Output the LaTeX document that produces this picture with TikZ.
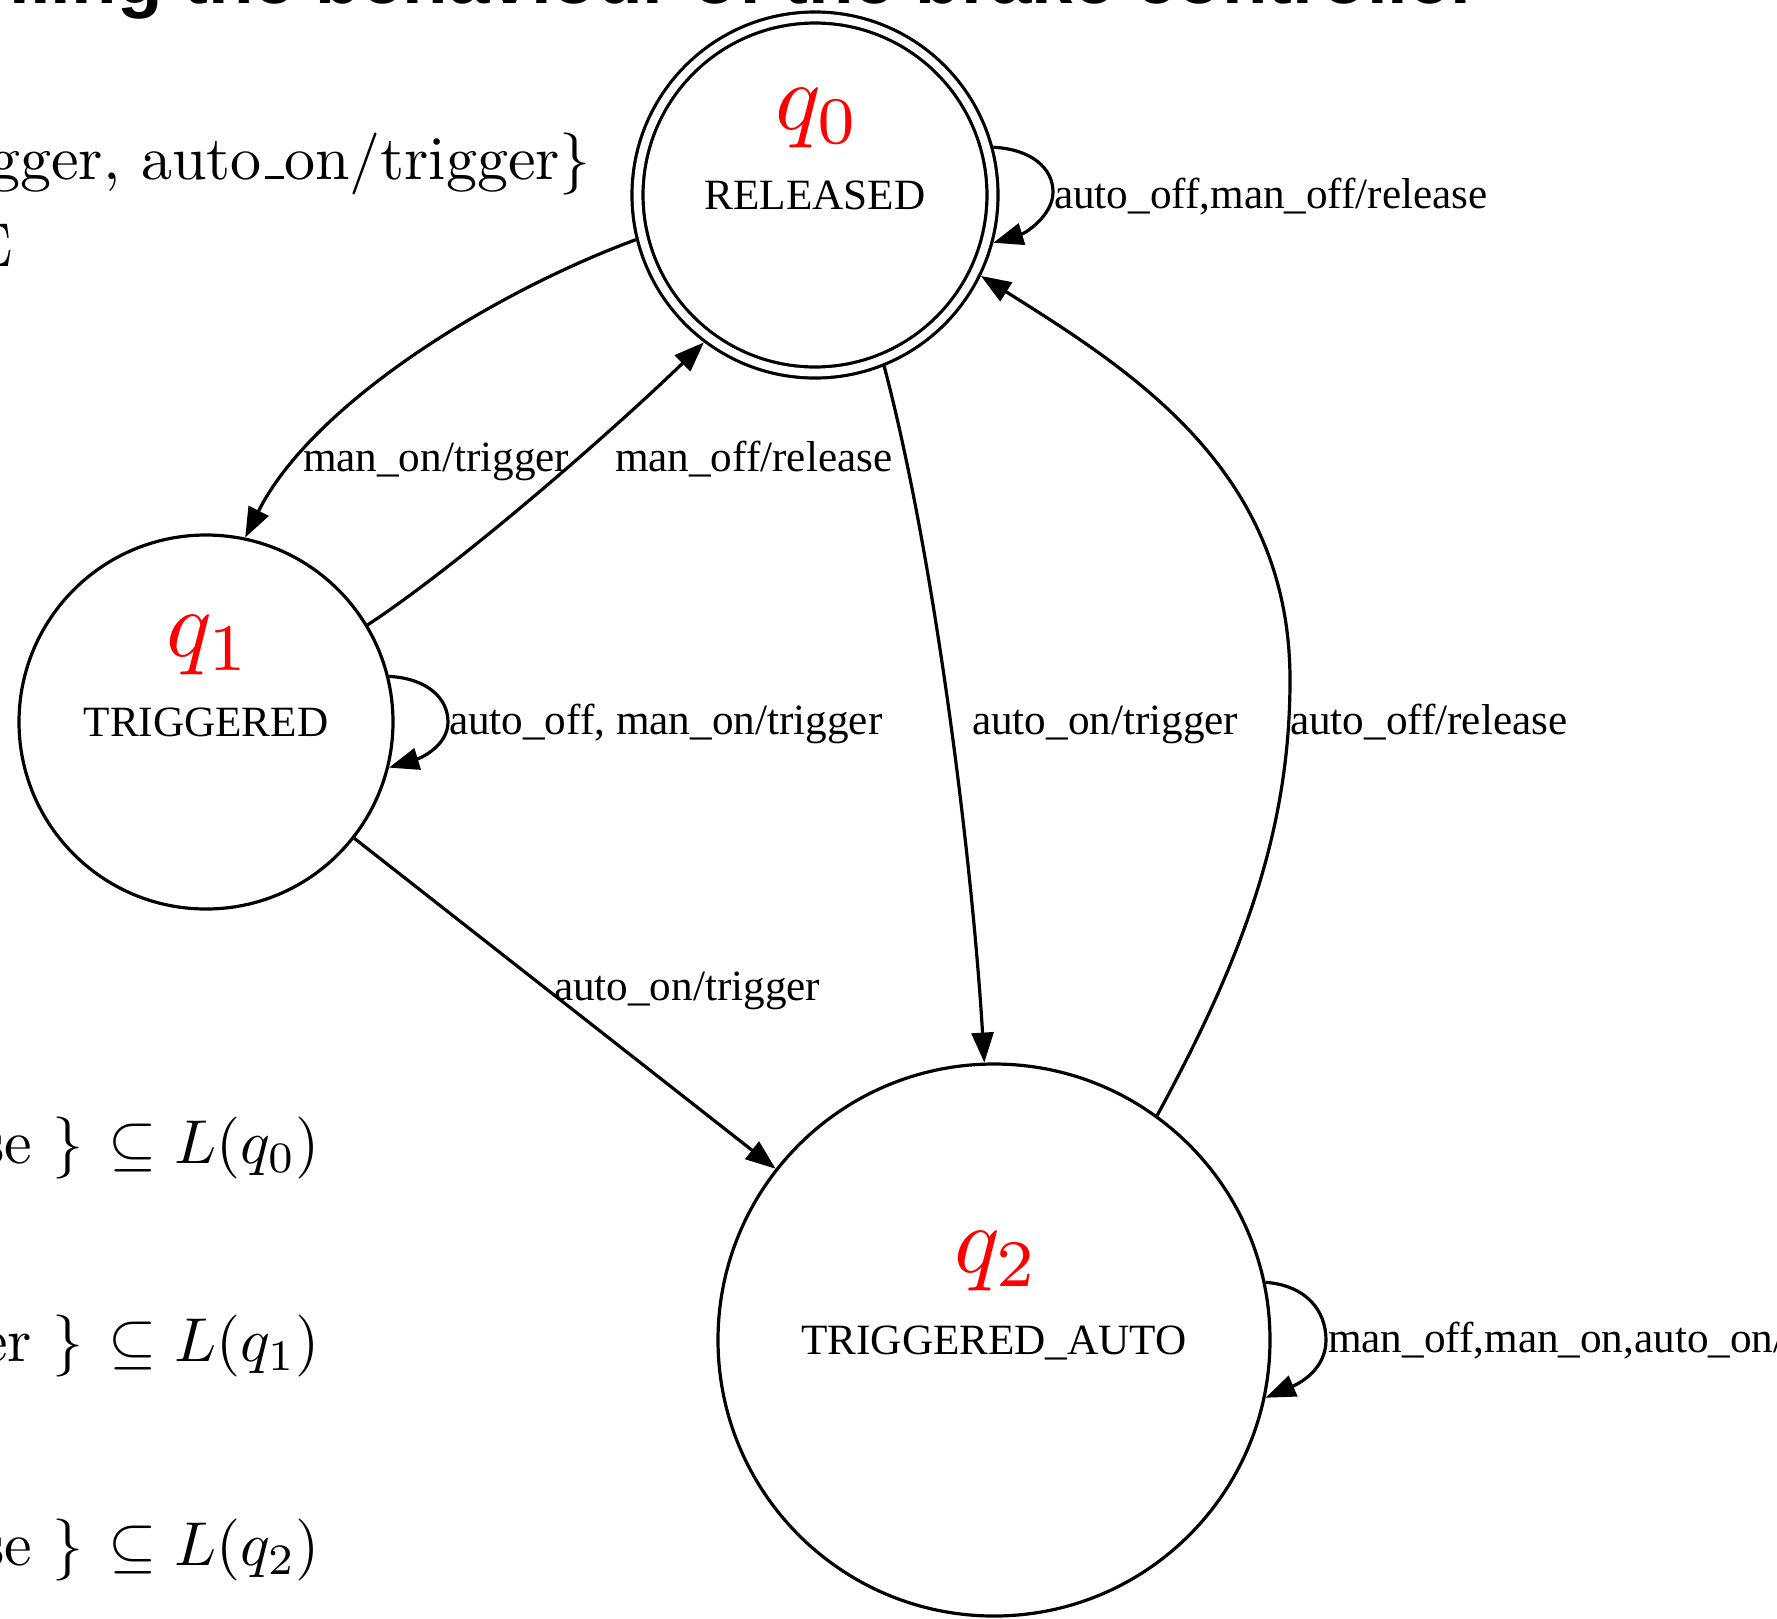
\documentclass[tikz,border=0pt]{standalone}
\usepackage{fontspec}
\newfontfamily\gvserif{Liberation Serif}
\newfontfamily\headsans{Liberation Sans}
\usetikzlibrary{arrows.meta}
% short low rule used as underscore in the slide text
\newcommand\cmus{\leavevmode\kern.06em\vbox{\hrule width.3em height .5pt}}

\begin{document}
\begin{tikzpicture}[x=1pt,y=-1pt,
  every node/.style={inner sep=0pt, outer sep=0pt},
  state/.style={circle, draw, line width=3.2pt, inner sep=0pt, outer sep=1.6pt},
  final/.style={state, double, double distance=7.8pt, outer sep=7.1pt},
  trans/.style={line width=3.2pt, -{Triangle[length=30pt,width=22pt]}},
  edgelbl/.style={font=\gvserif\fontsize{43.2}{50}\selectfont, anchor=base west},
  statelbl/.style={font=\gvserif\fontsize{43.2}{50}\selectfont, anchor=base},
  qlbl/.style={text=red, font=\normalsize, scale=9.5, anchor=base},
  slide/.style={font=\normalsize, scale=6.2, anchor=base east},
]
\useasboundingbox (0,0) rectangle (1777,1618);
\clip (0,0) rectangle (1777,1618);
\fill[white] (0,0) rectangle (1777,1618);

% slide heading and surrounding text
\node[font=\headsans\bfseries\fontsize{74.5}{80}\selectfont, anchor=base east] (ttl) at (1479,3) {lling the behaviour of the brake controller};
\node[slide] (s1) at (591,179) {gger, auto\cmus on/trigger\}};
\node[slide] (s2) at (13,266) {E};
\node[slide] (s3) at (320,1163) {se \}\hspace{0.4em}$\subseteq L(q_0)$};
\node[slide] (s4) at (320,1361) {er \}\hspace{0.4em}$\subseteq L(q_1)$};
\node[slide] (s5) at (320,1565) {se \}\hspace{0.4em}$\subseteq L(q_2)$};

% states
\node[final, minimum size=355pt] (q0) at (815,195) {};
\node[state, minimum size=374pt] (q1) at (206,722) {};
\node[state, minimum size=552pt] (q2) at (994,1340) {};

\node[qlbl] (q0n) at (818,129) {$q_0$};
\node[statelbl] (q0s) at (815,209) {RELEASED};
\node[qlbl] (q1n) at (209,656) {$q_1$};
\node[statelbl] (q1s) at (206,736) {TRIGGERED};
\node[qlbl] (q2n) at (997,1272) {$q_2$};
\node[statelbl] (q2s) at (994,1354) {TRIGGERED\_AUTO};

% transitions
\draw[trans] (q0.194) .. controls +(-141,52) and +(68,-135) .. (q1.78);
\draw[trans] (q1.31) .. controls +(100,-66) and +(-80,78) .. (q0.233);
\draw[trans] (q0.-68) .. controls +(51,193) and +(-12,-200) .. (q2.92);
\draw[trans] (q1) -- (q2);
\coordinate (bend) at (1290,680);
\draw[trans] (q2.54) .. controls +(86,-158) and +(0,150) .. (bend)
  .. controls +(0,-210) and +(151,95) .. (q0.-26);

% self loops
\coordinate (k0) at (1053,192);
\draw[trans] (q0.15) .. controls +(38,2) and +(0,-24) .. (k0)
  .. controls +(0,23) and +(33,-10) .. (q0.-15);
\coordinate (k1) at (448,722);
\draw[trans] (q1.14) .. controls +(38,2) and +(0,-24) .. (k1)
  .. controls +(0,23) and +(33,-10) .. (q1.-14);
\coordinate (k2) at (1326,1340);
\draw[trans] (q2.12) .. controls +(40,3) and +(0,-30) .. (k2)
  .. controls +(0,30) and +(33,-14) .. (q2.-12);

% transition labels
\node[edgelbl] (l1) at (1054,208) {auto\_off,man\_off/release};
\node[edgelbl] (l2) at (303,471) {man\_on/trigger};
\node[edgelbl] (l3) at (615,471) {man\_off/release};
\node[edgelbl] (l4) at (449,734) {auto\_off, man\_on/trigger};
\node[edgelbl] (l5) at (972,734) {auto\_on/trigger};
\node[edgelbl] (l6) at (1290,734) {auto\_off/release};
\node[edgelbl] (l7) at (554,1000) {auto\_on/trigger};
\node[edgelbl] (l8) at (1328,1352) {man\_off,man\_on,auto\_on/};
\end{tikzpicture}
\end{document}
